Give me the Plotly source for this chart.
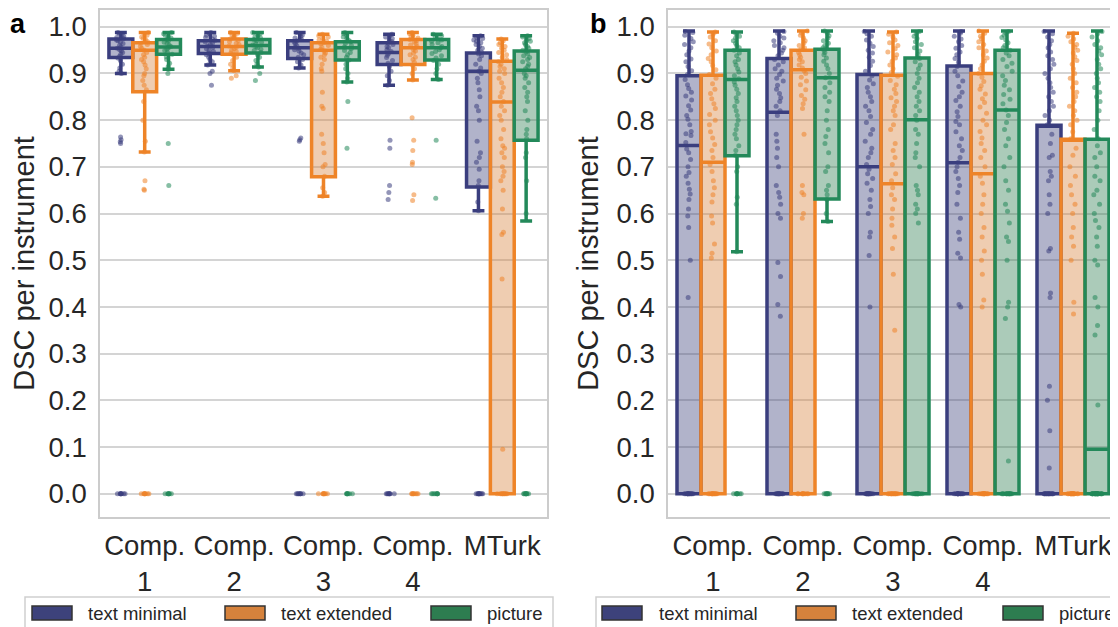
import plotly.graph_objects as go

categories = ["Comp.<br>1", "Comp.<br>2", "Comp.<br>3", "Comp.<br>4", "MTurk"]
series_names = ["text minimal", "text extended", "picture"]

# ---------------- panel a : box statistics ----------------
a_minimal_upper = [0.988, 0.988, 0.988, 0.984, 0.981]
a_minimal_q3 = [0.974, 0.970, 0.970, 0.966, 0.944]
a_minimal_median = [0.954, 0.958, 0.955, 0.945, 0.905]
a_minimal_q1 = [0.934, 0.943, 0.932, 0.919, 0.657]
a_minimal_lower = [0.900, 0.918, 0.912, 0.875, 0.606]

a_extended_upper = [0.988, 0.988, 0.984, 0.988, 0.974]
a_extended_q3 = [0.966, 0.974, 0.966, 0.973, 0.926]
a_extended_median = [0.950, 0.958, 0.950, 0.955, 0.839]
a_extended_q1 = [0.861, 0.941, 0.679, 0.919, 0.0]
a_extended_lower = [0.732, 0.906, 0.637, 0.886, 0.0]

a_picture_upper = [0.988, 0.988, 0.988, 0.984, 0.981]
a_picture_q3 = [0.973, 0.973, 0.968, 0.973, 0.948]
a_picture_median = [0.957, 0.960, 0.955, 0.955, 0.907]
a_picture_q1 = [0.941, 0.944, 0.929, 0.929, 0.757]
a_picture_lower = [0.909, 0.914, 0.882, 0.887, 0.584]

# ---------------- panel a : individual points ----------------
a_minimal_points = [
    [0.988, 0.985, 0.983, 0.98, 0.977, 0.975, 0.972, 0.97, 0.967, 0.964, 0.96, 0.957, 0.954, 0.951, 0.948,
     0.945, 0.941, 0.937, 0.933, 0.928, 0.92, 0.912, 0.905, 0.9, 0.764, 0.758, 0.754, 0.75,
     0, 0, 0, 0, 0, 0, 0, 0],
    [0.988, 0.985, 0.982, 0.98, 0.977, 0.974, 0.971, 0.968, 0.965, 0.962, 0.959, 0.956, 0.953, 0.95, 0.947,
     0.944, 0.94, 0.935, 0.93, 0.925, 0.918, 0.905, 0.9, 0.875],
    [0.988, 0.985, 0.982, 0.979, 0.976, 0.973, 0.97, 0.967, 0.964, 0.96, 0.957, 0.954, 0.951, 0.948, 0.944,
     0.94, 0.935, 0.93, 0.925, 0.918, 0.912, 0.762, 0.758, 0.755, 0, 0, 0, 0, 0, 0, 0, 0],
    [0.984, 0.981, 0.978, 0.975, 0.972, 0.968, 0.965, 0.962, 0.958, 0.955, 0.951, 0.947, 0.943, 0.939, 0.934,
     0.928, 0.922, 0.915, 0.905, 0.895, 0.885, 0.875, 0.757, 0.74, 0.66, 0.645, 0.63,
     0, 0, 0, 0, 0, 0, 0, 0],
    [0.981, 0.978, 0.975, 0.972, 0.969, 0.966, 0.962, 0.958, 0.954, 0.95, 0.946, 0.942, 0.938, 0.93, 0.92,
     0.912, 0.905, 0.9, 0.89, 0.88, 0.865, 0.85, 0.83, 0.82, 0.8, 0.755, 0.73, 0.72, 0.71, 0.695, 0.67,
     0.66, 0.625, 0.606, 0, 0, 0, 0, 0, 0, 0, 0, 0, 0],
]
a_extended_points = [
    [0.988, 0.985, 0.982, 0.978, 0.975, 0.972, 0.968, 0.965, 0.962, 0.958, 0.954, 0.95, 0.945, 0.94, 0.935,
     0.93, 0.925, 0.918, 0.91, 0.9, 0.895, 0.885, 0.875, 0.865, 0.84, 0.8, 0.755, 0.732, 0.67, 0.652, 0.65,
     0, 0, 0, 0, 0, 0, 0, 0],
    [0.988, 0.986, 0.983, 0.98, 0.977, 0.974, 0.971, 0.968, 0.965, 0.962, 0.959, 0.956, 0.953, 0.95, 0.947,
     0.944, 0.94, 0.935, 0.928, 0.92, 0.912, 0.906, 0.895, 0.89],
    [0.984, 0.981, 0.978, 0.975, 0.972, 0.969, 0.966, 0.963, 0.96, 0.956, 0.952, 0.948, 0.944, 0.94, 0.935,
     0.93, 0.92, 0.91, 0.905, 0.86, 0.83, 0.825, 0.77, 0.75, 0.73, 0.705, 0.7, 0.68, 0.655, 0.645, 0.637,
     0, 0, 0, 0, 0, 0, 0, 0],
    [0.988, 0.985, 0.982, 0.979, 0.976, 0.973, 0.97, 0.967, 0.964, 0.961, 0.958, 0.955, 0.952, 0.948, 0.944,
     0.94, 0.935, 0.93, 0.924, 0.918, 0.91, 0.9, 0.886, 0.805, 0.757, 0.735, 0.71, 0.705, 0.64, 0.628,
     0, 0, 0, 0, 0, 0, 0, 0],
    [0.974, 0.97, 0.966, 0.962, 0.958, 0.954, 0.95, 0.945, 0.94, 0.935, 0.93, 0.925, 0.92, 0.915, 0.91,
     0.905, 0.9, 0.89, 0.88, 0.87, 0.86, 0.85, 0.84, 0.83, 0.82, 0.81, 0.8, 0.78, 0.76, 0.745, 0.74, 0.73,
     0.72, 0.7, 0.69, 0.68, 0.67, 0.65, 0.61, 0.56, 0.555, 0.46, 0.095, 0, 0, 0, 0, 0, 0, 0, 0, 0, 0],
]
a_picture_points = [
    [0.988, 0.985, 0.982, 0.979, 0.976, 0.973, 0.97, 0.967, 0.964, 0.961, 0.958, 0.955, 0.952, 0.949, 0.945,
     0.941, 0.936, 0.93, 0.922, 0.915, 0.909, 0.9, 0.75, 0.66, 0, 0, 0, 0, 0, 0, 0],
    [0.988, 0.985, 0.982, 0.979, 0.976, 0.973, 0.97, 0.967, 0.964, 0.961, 0.958, 0.955, 0.952, 0.949, 0.945,
     0.94, 0.935, 0.928, 0.92, 0.914, 0.9, 0.885],
    [0.988, 0.985, 0.982, 0.978, 0.975, 0.971, 0.968, 0.964, 0.96, 0.957, 0.953, 0.949, 0.945, 0.94, 0.935,
     0.929, 0.92, 0.91, 0.9, 0.89, 0.882, 0.84, 0.74, 0, 0, 0, 0, 0, 0, 0],
    [0.984, 0.981, 0.978, 0.975, 0.972, 0.969, 0.966, 0.962, 0.958, 0.955, 0.951, 0.947, 0.943, 0.938, 0.933,
     0.928, 0.92, 0.91, 0.9, 0.887, 0.757, 0.633, 0, 0, 0, 0, 0, 0, 0, 0],
    [0.981, 0.978, 0.975, 0.972, 0.969, 0.966, 0.962, 0.958, 0.954, 0.95, 0.946, 0.942, 0.938, 0.934, 0.93,
     0.925, 0.92, 0.915, 0.91, 0.9, 0.895, 0.89, 0.88, 0.87, 0.86, 0.85, 0.84, 0.82, 0.8, 0.78, 0.77, 0.76,
     0.73, 0.72, 0.67, 0.6, 0, 0, 0, 0, 0, 0, 0, 0, 0],
]

# ---------------- panel b : box statistics ----------------
b_minimal_upper = [0.991, 0.991, 0.991, 0.991, 0.991]
b_minimal_q3 = [0.895, 0.932, 0.898, 0.916, 0.789]
b_minimal_median = [0.746, 0.817, 0.700, 0.709, 0.789]
b_minimal_q1 = [0.0, 0.0, 0.0, 0.0, 0.0]
b_minimal_lower = [0.0, 0.0, 0.0, 0.0, 0.0]

b_extended_upper = [0.989, 0.991, 0.989, 0.991, 0.986]
b_extended_q3 = [0.896, 0.950, 0.896, 0.900, 0.759]
b_extended_median = [0.710, 0.908, 0.664, 0.685, 0.759]
b_extended_q1 = [0.0, 0.0, 0.0, 0.0, 0.0]
b_extended_lower = [0.0, 0.0, 0.0, 0.0, 0.0]

b_picture_upper = [0.989, 0.991, 0.991, 0.991, 0.991]
b_picture_q3 = [0.950, 0.952, 0.933, 0.950, 0.759]
b_picture_median = [0.887, 0.891, 0.801, 0.822, 0.095]
b_picture_q1 = [0.724, 0.631, 0.0, 0.0, 0.0]
b_picture_lower = [0.518, 0.583, 0.0, 0.0, 0.0]

# ---------------- panel b : individual points ----------------
b_minimal_points = [
    [0.99, 0.988, 0.982, 0.975, 0.968, 0.962, 0.955, 0.948, 0.94, 0.931, 0.925, 0.915, 0.906, 0.898, 0.887,
     0.876, 0.868, 0.86, 0.852, 0.843, 0.831, 0.822, 0.81, 0.802, 0.79, 0.776, 0.771, 0.767, 0.752, 0.738,
     0.73, 0.716, 0.7, 0.688, 0.68, 0.665, 0.652, 0.642, 0.63, 0.61, 0.595, 0.57, 0.5, 0.42,
     0, 0, 0, 0, 0, 0, 0, 0, 0, 0, 0, 0, 0, 0],
    [0.99, 0.986, 0.98, 0.976, 0.97, 0.966, 0.96, 0.955, 0.95, 0.944, 0.938, 0.93, 0.925, 0.918, 0.91,
     0.905, 0.898, 0.89, 0.884, 0.875, 0.866, 0.857, 0.848, 0.84, 0.83, 0.82, 0.81, 0.77, 0.755, 0.74,
     0.72, 0.7, 0.66, 0.645, 0.635, 0.62, 0.6, 0.59, 0.495, 0.465, 0.405, 0.38,
     0, 0, 0, 0, 0, 0, 0, 0, 0, 0, 0, 0],
    [0.99, 0.985, 0.98, 0.972, 0.965, 0.958, 0.95, 0.944, 0.935, 0.926, 0.917, 0.905, 0.895, 0.886, 0.878,
     0.87, 0.86, 0.85, 0.84, 0.83, 0.82, 0.808, 0.795, 0.78, 0.77, 0.755, 0.74, 0.73, 0.72, 0.705, 0.695,
     0.685, 0.675, 0.665, 0.65, 0.63, 0.615, 0.6, 0.56, 0.55, 0.51, 0.4,
     0, 0, 0, 0, 0, 0, 0, 0, 0, 0, 0, 0, 0, 0],
    [0.99, 0.986, 0.98, 0.974, 0.968, 0.96, 0.954, 0.946, 0.94, 0.932, 0.924, 0.915, 0.905, 0.895, 0.884,
     0.872, 0.86, 0.85, 0.842, 0.83, 0.818, 0.808, 0.797, 0.79, 0.775, 0.76, 0.745, 0.735, 0.72, 0.71, 0.7,
     0.69, 0.675, 0.66, 0.645, 0.62, 0.59, 0.56, 0.545, 0.515, 0.505, 0.405, 0.4,
     0, 0, 0, 0, 0, 0, 0, 0, 0, 0, 0, 0, 0, 0],
    [0.99, 0.985, 0.978, 0.97, 0.962, 0.955, 0.946, 0.938, 0.93, 0.92, 0.91, 0.9, 0.89, 0.88, 0.87, 0.86,
     0.85, 0.84, 0.83, 0.82, 0.81, 0.8, 0.79, 0.77, 0.75, 0.725, 0.72, 0.69, 0.68, 0.67, 0.64, 0.62, 0.6,
     0.525, 0.52, 0.43, 0.42, 0.23, 0.2, 0.135, 0.055,
     0, 0, 0, 0, 0, 0, 0, 0, 0, 0, 0, 0, 0, 0, 0, 0],
]
b_extended_points = [
    [0.989, 0.984, 0.978, 0.97, 0.963, 0.955, 0.948, 0.94, 0.932, 0.925, 0.917, 0.908, 0.898, 0.89, 0.878,
     0.866, 0.857, 0.846, 0.835, 0.825, 0.812, 0.8, 0.79, 0.775, 0.762, 0.748, 0.735, 0.72, 0.705, 0.69,
     0.67, 0.655, 0.64, 0.625, 0.595, 0.58, 0.535, 0.515, 0.505,
     0, 0, 0, 0, 0, 0, 0, 0, 0, 0, 0, 0, 0],
    [0.991, 0.987, 0.982, 0.976, 0.97, 0.966, 0.96, 0.955, 0.951, 0.945, 0.94, 0.935, 0.93, 0.925, 0.918,
     0.912, 0.906, 0.9, 0.892, 0.884, 0.876, 0.865, 0.853, 0.845, 0.835, 0.825, 0.77, 0.66, 0.645, 0.64,
     0.6, 0.59, 0, 0, 0, 0, 0, 0, 0, 0, 0, 0],
    [0.989, 0.984, 0.978, 0.972, 0.966, 0.96, 0.953, 0.946, 0.94, 0.933, 0.926, 0.918, 0.91, 0.902, 0.894,
     0.885, 0.876, 0.866, 0.857, 0.848, 0.84, 0.83, 0.82, 0.81, 0.79, 0.78, 0.75, 0.735, 0.72, 0.705, 0.685,
     0.67, 0.655, 0.64, 0.63, 0.61, 0.59, 0.575, 0.55, 0.525, 0.47, 0.35,
     0, 0, 0, 0, 0, 0, 0, 0, 0, 0, 0, 0, 0, 0],
    [0.991, 0.986, 0.98, 0.975, 0.968, 0.962, 0.955, 0.948, 0.94, 0.933, 0.926, 0.918, 0.91, 0.9, 0.892,
     0.883, 0.874, 0.866, 0.856, 0.846, 0.838, 0.828, 0.815, 0.8, 0.79, 0.776, 0.762, 0.75, 0.735, 0.72,
     0.7, 0.68, 0.665, 0.64, 0.62, 0.6, 0.57, 0.55, 0.52, 0.5, 0.47, 0.415, 0.4,
     0, 0, 0, 0, 0, 0, 0, 0, 0, 0, 0, 0, 0, 0],
    [0.986, 0.98, 0.974, 0.968, 0.962, 0.956, 0.95, 0.944, 0.936, 0.928, 0.92, 0.91, 0.9, 0.89, 0.88, 0.87,
     0.86, 0.85, 0.84, 0.83, 0.82, 0.81, 0.8, 0.79, 0.775, 0.76, 0.74, 0.725, 0.7, 0.68, 0.66, 0.64, 0.62,
     0.6, 0.57, 0.55, 0.53, 0.5, 0.41, 0.385,
     0, 0, 0, 0, 0, 0, 0, 0, 0, 0, 0, 0, 0, 0, 0, 0],
]
b_picture_points = [
    [0.989, 0.985, 0.98, 0.976, 0.97, 0.965, 0.96, 0.955, 0.95, 0.944, 0.938, 0.93, 0.925, 0.918, 0.91,
     0.903, 0.895, 0.889, 0.882, 0.875, 0.866, 0.857, 0.848, 0.84, 0.83, 0.82, 0.81, 0.8, 0.79, 0.78, 0.77,
     0.76, 0.745, 0.735, 0.725, 0.7, 0.69, 0.635, 0.62, 0.518, 0, 0, 0, 0, 0, 0, 0, 0],
    [0.991, 0.986, 0.981, 0.976, 0.97, 0.965, 0.96, 0.955, 0.95, 0.945, 0.94, 0.933, 0.926, 0.918, 0.91,
     0.9, 0.891, 0.88, 0.87, 0.86, 0.85, 0.84, 0.82, 0.8, 0.78, 0.765, 0.75, 0.73, 0.7, 0.69, 0.66, 0.65,
     0.64, 0.63, 0.6, 0.583, 0, 0, 0, 0, 0, 0, 0, 0],
    [0.99, 0.985, 0.98, 0.975, 0.968, 0.962, 0.955, 0.948, 0.94, 0.932, 0.925, 0.918, 0.91, 0.9, 0.89, 0.88,
     0.87, 0.86, 0.85, 0.84, 0.83, 0.82, 0.81, 0.8, 0.78, 0.77, 0.75, 0.73, 0.72, 0.7, 0.66, 0.65, 0.64,
     0.62, 0.61, 0.6, 0.58, 0, 0, 0, 0, 0, 0, 0, 0, 0, 0, 0, 0],
    [0.99, 0.986, 0.982, 0.977, 0.972, 0.966, 0.96, 0.955, 0.95, 0.944, 0.938, 0.93, 0.922, 0.915, 0.905,
     0.895, 0.885, 0.875, 0.865, 0.855, 0.845, 0.835, 0.822, 0.81, 0.795, 0.78, 0.76, 0.745, 0.72, 0.7,
     0.67, 0.65, 0.62, 0.605, 0.58, 0.55, 0.54, 0.5, 0.41, 0.4, 0.375, 0.07,
     0, 0, 0, 0, 0, 0, 0, 0, 0, 0, 0, 0, 0, 0],
    [0.99, 0.985, 0.978, 0.97, 0.962, 0.955, 0.948, 0.94, 0.93, 0.92, 0.91, 0.9, 0.89, 0.88, 0.87, 0.86,
     0.85, 0.84, 0.82, 0.8, 0.78, 0.76, 0.745, 0.73, 0.72, 0.7, 0.68, 0.67, 0.65, 0.64, 0.62, 0.6, 0.585,
     0.57, 0.55, 0.53, 0.5, 0.49, 0.42, 0.4, 0.36, 0.34, 0.19,
     0, 0, 0, 0, 0, 0, 0, 0, 0, 0, 0, 0, 0, 0, 0, 0, 0, 0, 0, 0, 0, 0, 0, 0],
]

# ---------------- styling ----------------
LINE_COLORS = ["#3a3e7e", "#ee8428", "#23895a"]
SWATCH_COLORS = ["#3d427b", "#d6823c", "#2d7d50"]
FILL_COLORS = ["rgba(61,66,123,0.40)", "rgba(214,130,60,0.40)", "rgba(45,125,80,0.40)"]
POINT_COLORS = ["rgba(58,62,126,0.55)", "rgba(238,132,40,0.55)", "rgba(35,137,90,0.55)"]
FONT = "Liberation Sans, Arial, Helvetica, sans-serif"
TEXT = "#262626"
GRID = "#d4d4d4"

# the page body adds an 8px offset; the figure is sized so it ends at the window edge
OFF = 8
W, H = 1118 - OFF, 627 - OFF
ML, MR, MT, MB = 92, 0, 2, 110
PW, PH = W - ML - MR, H - MT - MB


def px(page_x):
    return (page_x - OFF - ML) / PW


def py(page_y):
    return (H - MB - (page_y - OFF)) / PH


fig = go.Figure()

panels = [
    ("x", "y", [
        (a_minimal_lower, a_minimal_q1, a_minimal_median, a_minimal_q3, a_minimal_upper, a_minimal_points),
        (a_extended_lower, a_extended_q1, a_extended_median, a_extended_q3, a_extended_upper, a_extended_points),
        (a_picture_lower, a_picture_q1, a_picture_median, a_picture_q3, a_picture_upper, a_picture_points),
    ]),
    ("x2", "y2", [
        (b_minimal_lower, b_minimal_q1, b_minimal_median, b_minimal_q3, b_minimal_upper, b_minimal_points),
        (b_extended_lower, b_extended_q1, b_extended_median, b_extended_q3, b_extended_upper, b_extended_points),
        (b_picture_lower, b_picture_q1, b_picture_median, b_picture_q3, b_picture_upper, b_picture_points),
    ]),
]

for pi, (xa, ya, series) in enumerate(panels):
    for si, (lo, q1, med, q3, up, pts) in enumerate(series):
        fig.add_trace(go.Box(
            x=categories, q1=q1, median=med, q3=q3, lowerfence=lo, upperfence=up,
            boxpoints=False, xaxis=xa, yaxis=ya,
            line=dict(color=LINE_COLORS[si], width=3.5), fillcolor=FILL_COLORS[si],
            whiskerwidth=0.5, offsetgroup=str(si), alignmentgroup=f"p{pi}",
            name=series_names[si], showlegend=False, hoverinfo="skip",
        ))
    for si, (lo, q1, med, q3, up, pts) in enumerate(series):
        xs, ys = [], []
        for ci, vals in enumerate(pts):
            xs.extend([categories[ci]] * len(vals))
            ys.extend(vals)
        fig.add_trace(go.Box(
            x=xs, y=ys, boxpoints="all", jitter=0.45, pointpos=0,
            xaxis=xa, yaxis=ya,
            line=dict(color="rgba(0,0,0,0)", width=0), fillcolor="rgba(0,0,0,0)",
            marker=dict(color=POINT_COLORS[si], size=5, line=dict(width=0)),
            offsetgroup=str(si), alignmentgroup=f"p{pi}",
            name=series_names[si], showlegend=False, hoverinfo="y",
        ))

axis_common = dict(showline=True, mirror=True, linecolor="#cccccc", linewidth=1.5,
                   tickfont=dict(family=FONT, size=27.5, color=TEXT))
title_font = dict(family=FONT, size=29, color=TEXT)

fig.update_layout(
    width=W, height=H,
    margin=dict(l=ML, r=MR, t=MT, b=MB, autoexpand=False),
    paper_bgcolor="white", plot_bgcolor="white",
    boxmode="group", boxgap=0.2, boxgroupgap=0.0,
    showlegend=False,
    font=dict(family=FONT, color=TEXT),
    xaxis=dict(domain=[0, (547 - OFF - ML) / PW], range=[-0.5, 4.5], showgrid=False, ticks="",
               categoryorder="array", categoryarray=categories, ticklabelstandoff=3, **axis_common),
    xaxis2=dict(domain=[(668 - OFF - ML) / PW, 1.0], range=[-0.5, 4.5], showgrid=False, ticks="",
                categoryorder="array", categoryarray=categories, ticklabelstandoff=3, **axis_common),
    yaxis=dict(anchor="x", range=[-0.05, 1.036], dtick=0.1, tickformat=".1f", showgrid=True,
               gridcolor=GRID, gridwidth=1.5, zeroline=False, ticks="", ticklabelstandoff=6,
               title=dict(text="DSC per instrument", font=title_font, standoff=9),
               **axis_common),
    yaxis2=dict(anchor="x2", range=[-0.05, 1.036], dtick=0.1, tickformat=".1f", showgrid=True,
                gridcolor=GRID, gridwidth=1.5, zeroline=False, ticks="", ticklabelstandoff=6,
                title=dict(text="DSC per instrument", font=title_font, standoff=9),
                **axis_common),
)

# panel letters
for letter, xp in (("a", 18), ("b", 598)):
    fig.add_annotation(text=f"<b>{letter}</b>", xref="paper", yref="paper", x=px(xp), y=py(24),
                       showarrow=False, xanchor="center", yanchor="middle",
                       font=dict(family=FONT, size=27, color="black"))

# legends (one per panel)
legend_layouts = [
    (25, 553, [(32, 86), (225, 279), (431, 485)]),
    (596, 1130, [(602, 657), (796, 850), (1003, 1057)]),
]
for left, right, items in legend_layouts:
    fig.add_shape(type="rect", xref="paper", yref="paper", x0=px(left), x1=px(right),
                  y0=py(597), y1=py(645), line=dict(color="#cfcfcf", width=1.5), fillcolor="white",
                  layer="above")
    for si, (sx, tx) in enumerate(items):
        fig.add_shape(type="rect", xref="paper", yref="paper", x0=px(sx), x1=px(sx + 40),
                      y0=py(620), y1=py(606), line=dict(color="#333333", width=1.5),
                      fillcolor=SWATCH_COLORS[si], layer="above")
        fig.add_annotation(text=series_names[si], xref="paper", yref="paper", x=px(tx), y=py(613),
                           showarrow=False, xanchor="left", yanchor="middle",
                           font=dict(family=FONT, size=18.5, color=TEXT))

fig.write_html("out.html")
